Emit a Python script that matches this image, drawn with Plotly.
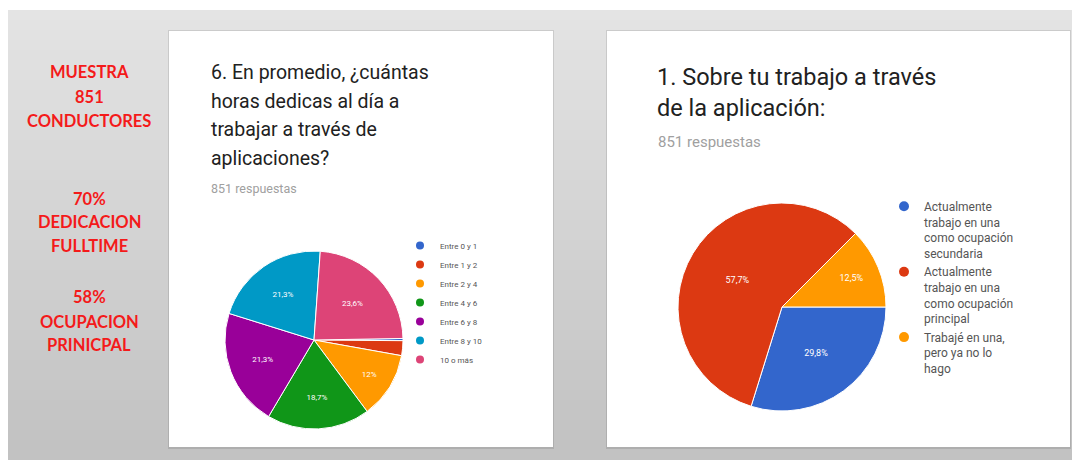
import plotly.graph_objects as go

# Left summary text
summary_lines = ["MUESTRA", "851", "CONDUCTORES", "70%", "DEDICACION", "FULLTIME",
                 "58%", "OCUPACION", "PRINICPAL"]
summary_y = [72, 97, 121, 199, 222, 246, 297, 322, 345]

# Question 6: hours per day
hours_labels = ["Entre 0 y 1", "Entre 1 y 2", "Entre 2 y 4", "Entre 4 y 6",
                "Entre 6 y 8", "Entre 8 y 10", "10 o más"]
hours_values = [0.4, 2.7, 12.0, 18.7, 21.3, 21.3, 23.6]
hours_colors = ["#3366cc", "#dc3912", "#ff9900", "#109618", "#990099", "#0099c6", "#dd4477"]

# Question 1: work through the app
work_labels = ["Actualmente<br>trabajo en una<br>como ocupación<br>secundaria",
               "Actualmente<br>trabajo en una<br>como ocupación<br>principal",
               "Trabajé en una,<br>pero ya no lo<br>hago"]
work_values = [29.8, 57.7, 12.5]
work_colors = ["#3366cc", "#dc3912", "#ff9900"]

W, H = 1073, 460


def px_x(x):
    return x / W


def px_y(y):
    return 1 - y / H


fig = go.Figure()

shapes = []
# gray gradient background
n_strips = 45
top, bottom = 10, 460
for i in range(n_strips):
    y0 = top + (bottom - top) * i / n_strips
    y1 = top + (bottom - top) * (i + 1) / n_strips + 0.5
    g = int(228 - (228 - 194) * i / (n_strips - 1))
    shapes.append(dict(type="rect", xref="paper", yref="paper", layer="below",
                       x0=px_x(8), x1=px_x(1072), y0=px_y(y1), y1=px_y(y0),
                       line=dict(width=0), fillcolor=f"rgb({g},{g},{g})"))

# white cards with a faint shadow
for (cx0, cx1) in [(169, 553), (607, 1070)]:
    shapes.append(dict(type="rect", xref="paper", yref="paper", layer="below",
                       x0=px_x(cx0 - 1), x1=px_x(cx1 + 1), y0=px_y(449), y1=px_y(30),
                       line=dict(width=0), fillcolor="rgba(0,0,0,0.10)"))
    shapes.append(dict(type="rect", xref="paper", yref="paper", layer="below",
                       x0=px_x(cx0), x1=px_x(cx1), y0=px_y(447), y1=px_y(31),
                       line=dict(width=0), fillcolor="white"))

# pies
r1, c1 = 89, (314, 340)
fig.add_trace(go.Pie(
    labels=hours_labels, values=hours_values, sort=False, direction="clockwise",
    rotation=89, showlegend=False,
    marker=dict(colors=hours_colors, line=dict(color="white", width=1)),
    texttemplate="%{percent:.3~p}",
    textposition=["inside" if v >= 5 else "none" for v in hours_values],
    insidetextorientation="horizontal",
    textfont=dict(color="white", size=8, family="Roboto"),
    domain=dict(x=[px_x(c1[0] - r1), px_x(c1[0] + r1)], y=[px_y(c1[1] + r1), px_y(c1[1] - r1)]),
    hoverinfo="label+percent",
))

r2, c2 = 104, (782, 307)
fig.add_trace(go.Pie(
    labels=work_labels, values=work_values, sort=False, direction="clockwise",
    rotation=90, showlegend=False,
    marker=dict(colors=work_colors, line=dict(color="white", width=1)),
    texttemplate="%{percent:.3~p}",
    textposition="inside", insidetextorientation="horizontal",
    textfont=dict(color="white", size=9, family="Roboto"),
    domain=dict(x=[px_x(c2[0] - r2), px_x(c2[0] + r2)], y=[px_y(c2[1] + r2), px_y(c2[1] - r2)]),
    hoverinfo="percent",
))

# legend entries with round markers
for lab, col in zip(hours_labels, hours_colors):
    fig.add_trace(go.Scatter(x=[None], y=[None], mode="markers", name=lab, legend="legend",
                             marker=dict(color=col, size=8, symbol="circle")))
for lab, col in zip(work_labels, work_colors):
    fig.add_trace(go.Scatter(x=[None], y=[None], mode="markers", name=lab, legend="legend2",
                             marker=dict(color=col, size=10, symbol="circle")))

annotations = []
for txt, y in zip(summary_lines, summary_y):
    annotations.append(dict(text=f"<b>{txt}</b>", x=px_x(89), y=px_y(y), xref="paper", yref="paper",
                            xanchor="center", yanchor="middle", showarrow=False,
                            font=dict(family="Lato", size=16.5, color="#f41a1a")))

left_title = ["6. En promedio, ¿cuántas", "horas dedicas al día a", "trabajar a través de",
              "aplicaciones?"]
for i, txt in enumerate(left_title):
    annotations.append(dict(text=txt, x=px_x(209), y=px_y(73 + 28.5 * i), xref="paper", yref="paper",
                            xanchor="left", yanchor="middle", showarrow=False,
                            font=dict(family="Roboto", size=19.5, color="#212121")))
annotations.append(dict(text="851 respuestas", x=px_x(209), y=px_y(189), xref="paper", yref="paper",
                        xanchor="left", yanchor="middle", showarrow=False,
                        font=dict(family="Roboto", size=12.5, color="#a0a0a0")))

right_title = ["1. Sobre tu trabajo a través", "de la aplicación:"]
for i, txt in enumerate(right_title):
    annotations.append(dict(text=txt, x=px_x(655), y=px_y(77 + 31 * i), xref="paper", yref="paper",
                            xanchor="left", yanchor="middle", showarrow=False,
                            font=dict(family="Roboto", size=23.5, color="#212121")))
annotations.append(dict(text="851 respuestas", x=px_x(656), y=px_y(142), xref="paper", yref="paper",
                        xanchor="left", yanchor="middle", showarrow=False,
                        font=dict(family="Roboto", size=15, color="#a0a0a0")))

fig.update_layout(
    width=W, height=H,
    margin=dict(l=0, r=0, t=0, b=0),
    paper_bgcolor="white", plot_bgcolor="rgba(0,0,0,0)",
    separators=",.",
    xaxis=dict(visible=False), yaxis=dict(visible=False),
    shapes=shapes, annotations=annotations,
    legend=dict(x=px_x(400), y=px_y(231), xanchor="left", yanchor="top",
                bgcolor="rgba(0,0,0,0)", font=dict(family="Roboto", size=8, color="#555555"),
                itemclick=False, itemdoubleclick=False),
    legend2=dict(x=px_x(884), y=px_y(192), xanchor="left", yanchor="top", valign="top",
                 bgcolor="rgba(0,0,0,0)", font=dict(family="Roboto", size=12, color="#555555"),
                 itemclick=False, itemdoubleclick=False),
)

fig.write_html("out.html", config={"displayModeBar": False},
               post_script="document.body.style.margin='0';")
